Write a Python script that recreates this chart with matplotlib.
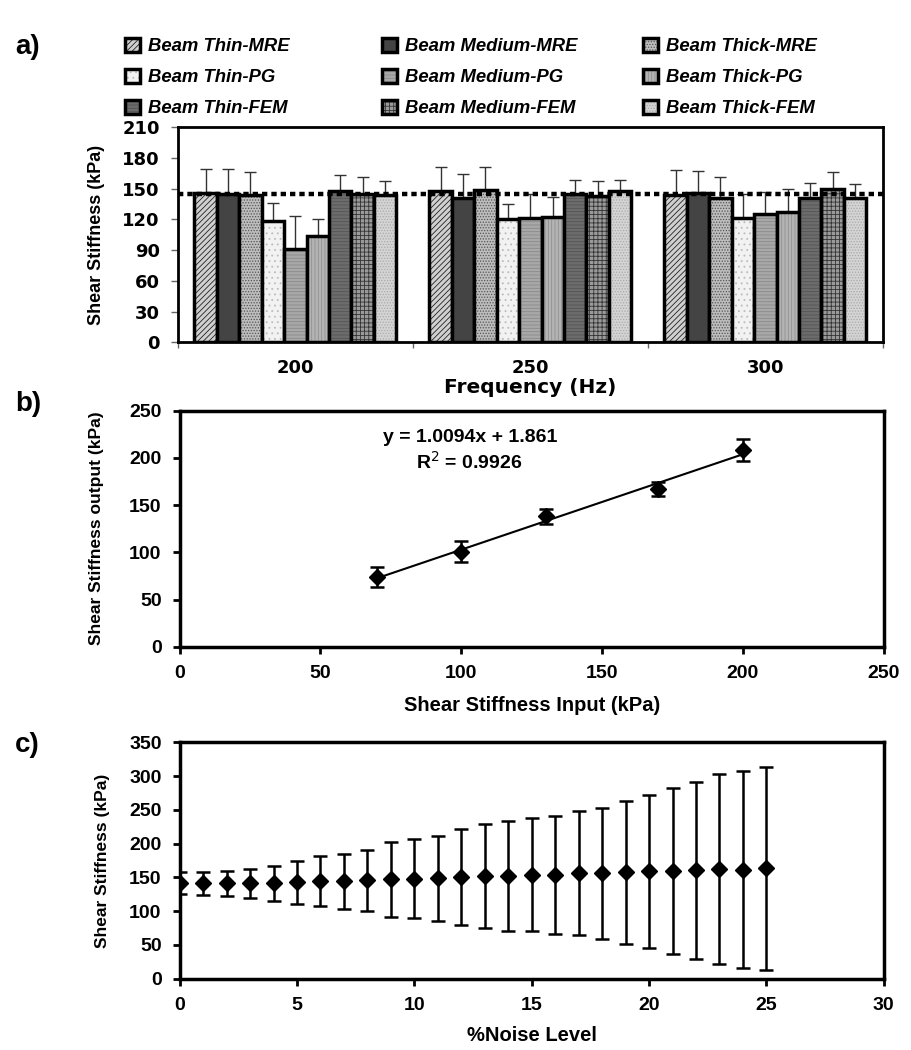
import numpy as np
import matplotlib
matplotlib.use('Agg')
import matplotlib.pyplot as plt
from matplotlib import font_manager

# font availability (narrow bold for panels b and c)
names = {f.name for f in font_manager.fontManager.ttflist}
NARROW = 'Liberation Sans Narrow' if 'Liberation Sans Narrow' in names else 'Liberation Sans'

# ---- panel a data: shear stiffness per frequency (kPa)
freqs = ['200', '250', '300']
series = ['Beam Thin-MRE', 'Beam Medium-MRE', 'Beam Thick-MRE',
          'Beam Thin-PG', 'Beam Medium-PG', 'Beam Thick-PG',
          'Beam Thin-FEM', 'Beam Medium-FEM', 'Beam Thick-FEM']
stiff_200 = [146, 145, 144, 118.5, 91, 104, 147.5, 145, 144]
stiff_250 = [147.5, 141, 148.5, 120, 121, 122, 144.5, 143, 147.5]
stiff_300 = [143.5, 146, 140.5, 121.5, 125, 127.5, 140.5, 150, 141]
err_200 = [23, 24, 22.5, 17.5, 32, 16, 16, 16, 13]
err_250 = [23.5, 23.5, 22.5, 15, 24, 20, 13.5, 14, 11]
err_300 = [25, 21, 21, 23, 21.5, 22, 14.5, 16, 13.5]
reference_kpa = 145

# ---- panel b data: input vs output stiffness
input_kpa = [70, 100, 130, 170, 200]
output_kpa = [73.5, 100.5, 138, 167, 208]
output_err = [10.5, 11, 8, 7.5, 11.5]
fit_slope = 1.0094
fit_icpt = 1.861

# ---- panel c data: noise level sweep
noise_pct = list(range(26))
noise_mean = [141.5, 141.5, 141, 141, 141, 142.5, 144, 144, 145.5, 147, 148, 148.5, 150.5,
              152, 152, 154, 153.5, 156.5, 156, 157.5, 159, 159, 160.5, 162, 161.5, 163.5]
noise_err = [16.5, 17, 18, 22, 26.5, 31.5, 37, 41, 45, 55, 58.5, 62.5, 70.5,
             76.5, 81, 84, 87, 91.5, 97, 106, 113.5, 123, 131.5, 141, 146, 150.5]

# bar styles (grayscale + hatches like the original)
faces = ['#d0d0d0', '#444444', '#bdbdbd', '#f2f2f2', '#a8a8a8', '#b4b4b4', '#6c6c6c', '#9a9a9a', '#d4d4d4']
hatches = ['//////', None, '......', '...', '-----', '|||||', '-----', '++++', '......']
hcolors = ['#222222', '#444444', '#555555', '#bbbbbb', '#8a8a8a', '#909090', '#555555', '#333333', '#aaaaaa']

plt.rcParams['hatch.linewidth'] = 0.6

fig = plt.figure(figsize=(9.12, 10.5), dpi=100)

# ================= panel a =================
ax = fig.add_axes([0.195, 0.674, 0.773, 0.205])
vals = np.array([stiff_200, stiff_250, stiff_300]).T
errs = np.array([err_200, err_250, err_300]).T
x = np.arange(len(freqs))
nb = len(series)
w = 0.86 / nb
handles = []
for i in range(nb):
    pos = x - 0.43 + w * (i + 0.5)
    b = ax.bar(pos, vals[i], width=w, color=faces[i], edgecolor='black', linewidth=2.5,
               hatch=hatches[i], label=series[i], zorder=2)
    for p in b.patches:
        p._hatch_color = matplotlib.colors.to_rgba(hcolors[i])
    ax.errorbar(pos, vals[i], yerr=[np.zeros(3), errs[i]], fmt='none', ecolor='#333333',
                elinewidth=1, capsize=4, capthick=1, zorder=1)
    handles.append(b)

ax.axhline(reference_kpa, color='black', lw=3.2, linestyle=(0, (1.2, 0.9)), zorder=4)
ax.set_xlim(-0.5, 2.5)
ax.set_ylim(0, 210)
ax.set_yticks(np.arange(0, 211, 30))
ax.set_xticks(x)
ax.set_xticklabels(freqs)
ax.set_xticks([-0.5, 0.5, 1.5, 2.5], minor=True)
ax.tick_params(axis='x', which='major', length=0, pad=12, labelsize=13)
ax.tick_params(axis='x', which='minor', length=4, width=1, color='#666666')
ax.tick_params(axis='y', length=5, width=1, color='#666666', labelsize=13, pad=8)
for lab in ax.get_xticklabels() + ax.get_yticklabels():
    lab.set_fontweight('heavy')
    lab.set_family('DejaVu Sans')
for s in ax.spines.values():
    s.set_linewidth(2)
ax.set_xlabel('Frequency (Hz)', fontsize=14.5, fontweight='bold', family='DejaVu Sans', labelpad=1)
ax.set_ylabel('Shear Stiffness (kPa)', fontsize=13, fontweight='bold', family=NARROW, labelpad=12)

# legend: one column per beam thickness, placed like the original
col_x = [125, 382, 643]
for c in range(3):
    idx = [c, c + 3, c + 6]
    leg = fig.legend([handles[k] for k in idx], [series[k] for k in idx], ncol=1,
                     loc='upper left', bbox_to_anchor=(col_x[c] / 912, 1 - 38 / 1050),
                     frameon=False, borderpad=0, borderaxespad=0,
                     prop=dict(family='Liberation Sans', weight='bold', style='italic', size=13.3),
                     handlelength=0.8, handleheight=0.8, handletextpad=0.45,
                     labelspacing=0.72)

# ================= panel b =================
bx = fig.add_axes([0.197, 0.384, 0.772, 0.225])
xf = np.array([min(input_kpa), max(input_kpa)])
bx.plot(xf, fit_slope * xf + fit_icpt, color='black', lw=1.5, zorder=2)
bx.errorbar(input_kpa, output_kpa, yerr=output_err, fmt='D', color='black', ms=8,
            ecolor='black', elinewidth=1.8, capsize=5, capthick=1.8, zorder=3)
bx.set_xlim(0, 250)
bx.set_ylim(0, 250)
bx.set_xticks(np.arange(0, 251, 50))
bx.set_yticks(np.arange(0, 251, 50))
bx.text(103, 222, 'y = 1.0094x + 1.861', ha='center', va='center', fontsize=14,
        fontweight='bold', family=NARROW)
bx.text(103, 196, 'R$^{2}$ = 0.9926', ha='center', va='center', fontsize=14,
        fontweight='bold', family=NARROW)
bx.set_xlabel('Shear Stiffness Input (kPa)', fontsize=14.5, fontweight='bold', family=NARROW, labelpad=10)
bx.set_ylabel('Shear Stiffness output (kPa)', fontsize=12.5, fontweight='bold', family=NARROW, labelpad=18)

# ================= panel c =================
cx = fig.add_axes([0.197, 0.068, 0.772, 0.225])
cx.errorbar(noise_pct, noise_mean, yerr=noise_err, fmt='D', color='black', ms=8,
            ecolor='black', elinewidth=1.8, capsize=5, capthick=1.8)
cx.set_xlim(0, 30)
cx.set_ylim(0, 350)
cx.set_xticks(np.arange(0, 31, 5))
cx.set_yticks(np.arange(0, 351, 50))
cx.set_xlabel('%Noise Level', fontsize=14.5, fontweight='bold', family=NARROW, labelpad=9)
cx.set_ylabel('Shear Stiffness (kPa)', fontsize=12.5, fontweight='bold', family=NARROW, labelpad=14)

for a in (bx, cx):
    for s in a.spines.values():
        s.set_linewidth(2.5)
    a.tick_params(length=5, width=2, labelsize=14, pad=8)
    for lab in a.get_xticklabels() + a.get_yticklabels():
        lab.set_fontweight('bold')
        lab.set_family(NARROW)

# panel letters
for lbl, yy in (('a)', 47), ('b)', 404), ('c)', 745)):
    fig.text(15 / 912, 1 - yy / 1050, lbl, fontsize=20, fontweight='bold',
             family='Liberation Sans', ha='left', va='center')

fig.savefig('out.png', dpi=100)
